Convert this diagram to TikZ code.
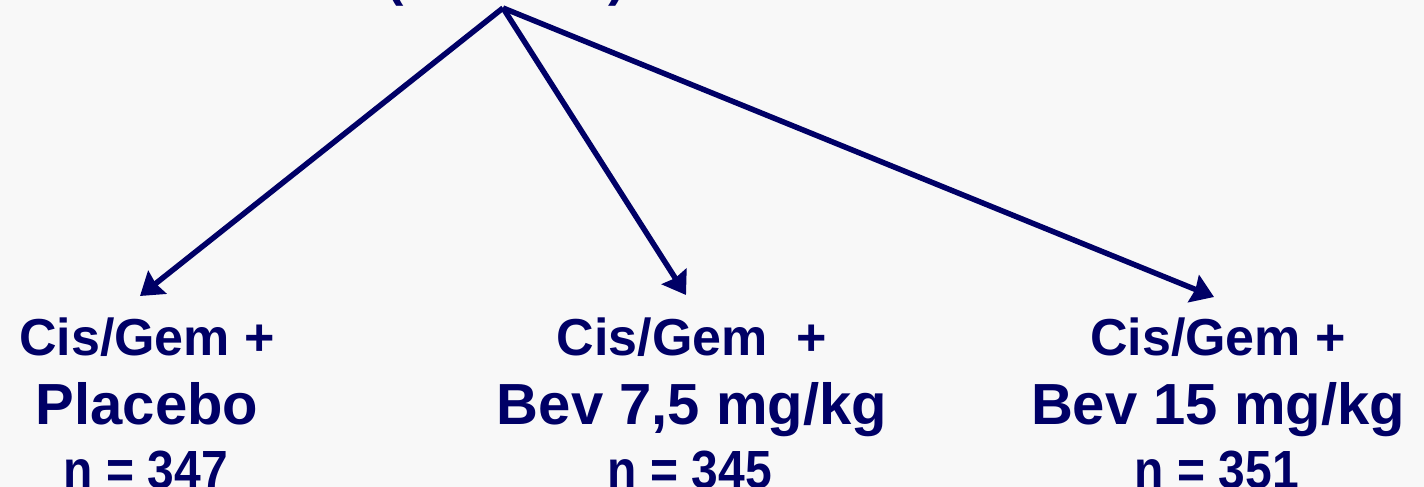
\documentclass[tikz,border=0pt]{standalone}
\usepackage{fontspec}
\setmainfont{Liberation Sans}
\usetikzlibrary{arrows.meta}
\definecolor{navy}{RGB}{0,0,102}
\definecolor{bg}{RGB}{248,248,248}
\tikzset{
  arm/.style={draw=navy, line width=5.5pt, -{Triangle[length=22pt,width=29pt,inset=2pt]}},
  small/.style={text=navy, font=\fontsize{52}{52}\selectfont\bfseries, anchor=base, inner sep=0pt},
  big/.style={text=navy, font=\fontsize{58}{58}\selectfont\bfseries, anchor=base, inner sep=0pt},
  count/.style={text=navy, font=\fontsize{48}{48}\selectfont\bfseries, anchor=base, inner sep=0pt},
}
\newcommand{\tallnum}[1]{\scalebox{1}[1.12]{#1}}
\begin{document}
\begin{tikzpicture}[x=1pt,y=-1pt]
\fill[bg] (0,0) rectangle (1424,487);
\useasboundingbox (0,0) rectangle (1424,487);
\clip (0,0) rectangle (1424,487);
\node[small] (lp) at (395,-4) {(};
\node[small] (rp) at (617,-4) {)};
\coordinate (top) at (503,8);
\node[small] (a1) at (147,355) {Cis/Gem +};
\node[big] (a2) at (147,424) {Placebo};
\node[count] (a3) at (146,488) {\tallnum{n = 347}};
\node[small] (b1) at (692,355) {Cis/Gem\ \ +};
\node[big] (b2) at (692,424) {Bev 7,5 mg/kg};
\node[count] (b3) at (690,488) {\tallnum{n = 345}};
\node[small] (c1) at (1218,355) {Cis/Gem +};
\node[big] (c2) at (1218,424) {Bev 15 mg/kg};
\node[count] (c3) at (1217,488) {\tallnum{n = 351}};
\coordinate (ta) at (140,296);
\coordinate (tb) at (686,295);
\coordinate (tc) at (1214,297);
\draw[arm] (top) -- (ta);
\draw[arm] (top) -- (tb);
\draw[arm] (top) -- (tc);
\end{tikzpicture}
\end{document}
